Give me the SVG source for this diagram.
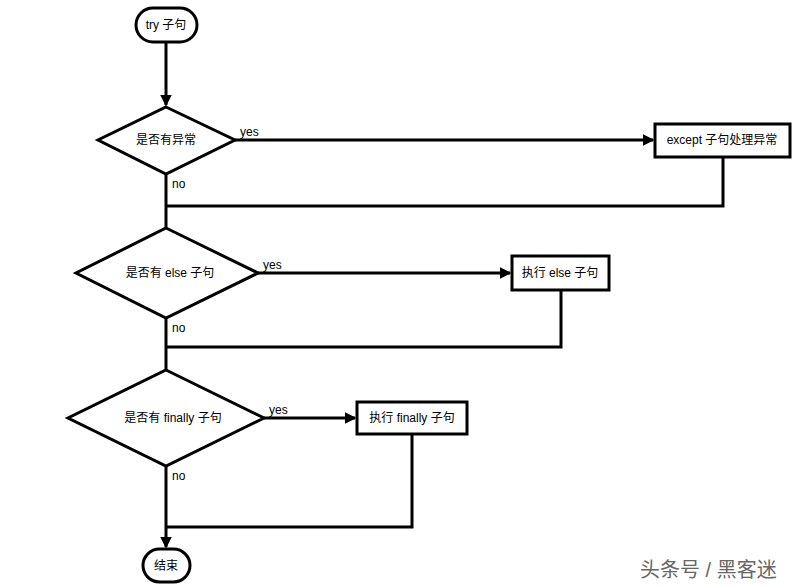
<svg xmlns="http://www.w3.org/2000/svg" width="805" height="587" viewBox="0 0 805 587">
<style>
.s{fill:#fff;stroke:#000;stroke-width:3}
.c{fill:none;stroke:#000;stroke-width:3}
text{font-family:"Liberation Sans","Noto Sans CJK SC",sans-serif;font-size:12px;fill:#000}
.m{text-anchor:middle;dominant-baseline:central}
</style>
<defs><marker id="a" markerWidth="4" markerHeight="4" refX="3.5" refY="2" orient="auto"><path d="M0,0L4,2L0,4z" fill="#000"/></marker></defs>
<rect width="805" height="587" fill="#fff"/>
<g id="connectors">
<path class="c" d="M166,42V105" marker-end="url(#a)"/>
<path class="c" d="M235,140H653" marker-end="url(#a)"/>
<path class="c" d="M166,174V228"/>
<path class="c" d="M723,157V206H166"/>
<path class="c" d="M258,273H510" marker-end="url(#a)"/>
<path class="c" d="M166,318V370"/>
<path class="c" d="M561,290V347H166"/>
<path class="c" d="M264,418H355" marker-end="url(#a)"/>
<path class="c" d="M166,466V547" marker-end="url(#a)"/>
<path class="c" d="M412,434V527H166"/>
<text x="240" y="136">yes</text>
<text x="172" y="188">no</text>
<text x="263" y="269">yes</text>
<text x="172" y="332">no</text>
<text x="269" y="414">yes</text>
<text x="172" y="480">no</text>
</g>
<g id="start"><rect class="s" x="136" y="8" width="61" height="34" rx="17"/><text class="m" x="166" y="25">try 子句</text></g>
<g id="d1"><path class="s" d="M166,107L235,140L166,174L98,140z"/><text class="m" x="166" y="140">是否有异常</text></g>
<g id="except"><rect class="s" x="655" y="124" width="135" height="33"/><text class="m" x="722" y="140">except 子句处理异常</text></g>
<g id="d2"><path class="s" d="M166,228L258,273L166,318L76,273z"/><text class="m" x="170" y="273">是否有 else 子句</text></g>
<g id="else"><rect class="s" x="512" y="256" width="97" height="34"/><text class="m" x="560" y="273">执行 else 子句</text></g>
<g id="d3"><path class="s" d="M166,370L264,418L166,466L68,418z"/><text class="m" x="173" y="418">是否有 finally 子句</text></g>
<g id="finally"><rect class="s" x="357" y="402" width="110" height="32"/><text class="m" x="412" y="418">执行 finally 子句</text></g>
<g id="end"><rect class="s" x="143" y="549" width="47" height="33" rx="16.5"/><text class="m" x="166" y="566">结束</text></g>
<text x="640" y="577" style="font-size:20px;fill:#666">头条号 / 黑客迷</text>
</svg>
